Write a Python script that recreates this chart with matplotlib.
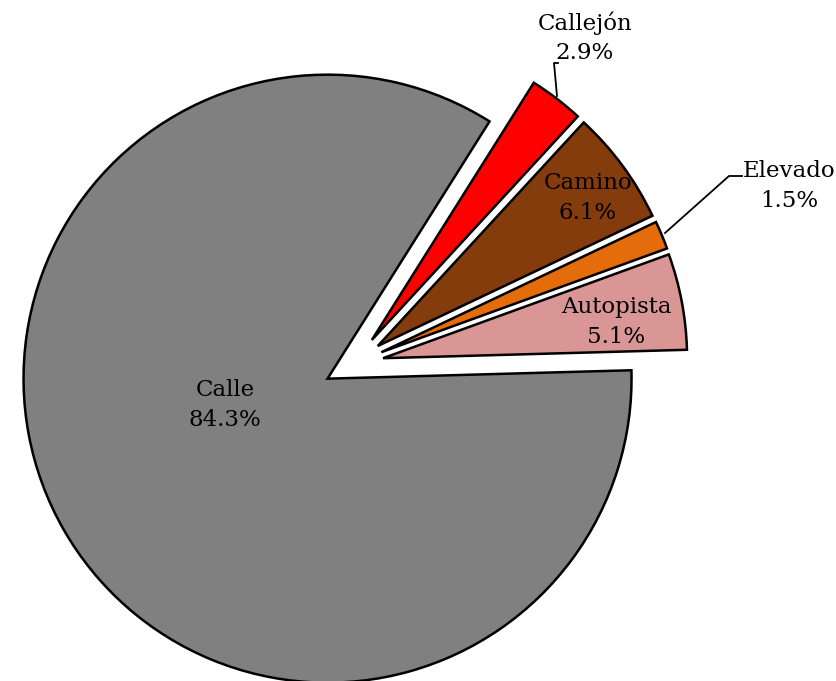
import matplotlib
matplotlib.use("Agg")
import matplotlib.pyplot as plt

# data
labels = ["Calle", "Autopista", "Elevado", "Camino", "Callejón"]
shares = [84.3, 5.1, 1.5, 6.1, 2.9]
colors = ["#808080", "#D99694", "#E46C0A", "#843C0C", "#FF0000"]

W, H = 837, 681
CENTER = (353.6, H - 363.8)
RADIUS = 304
OFFSET = 30  # explode distance in px (pie explode is in data units)
# label centres (screen px, y down)
label_pos = {
    "Calle": (225, 405),
    "Autopista": (616, 322),
    "Elevado": (789, 186),
    "Camino": (588, 198),
    "Callejón": (585, 38),
}

plt.rcParams["font.family"] = ["DejaVu Serif"]

fig = plt.figure(figsize=(W / 100, H / 100), dpi=100)
ax = fig.add_axes([0, 0, 1, 1])
ax.pie(
    shares, colors=colors, startangle=57.8, counterclock=True,
    explode=[OFFSET] * len(shares), radius=RADIUS, center=CENTER,
    wedgeprops=dict(edgecolor="black", linewidth=1.8),
)
ax.set_xlim(0, W)
ax.set_ylim(0, H)
ax.set_aspect("equal")
ax.axis("off")

for name, pct in zip(labels, shares):
    x, y = label_pos[name]
    ax.text(x, H - y, f"{name}\n{pct:.1f}%", ha="center", va="center",
            fontsize=16.5, linespacing=1.42, color="black")

# leader lines
ax.plot([742, 729, 665], [H - 176, H - 176, H - 233], color="black", lw=1.3)
ax.plot([558, 554, 557], [H - 63, H - 63, H - 96], color="black", lw=1.3)

fig.savefig("out.png", dpi=100)
